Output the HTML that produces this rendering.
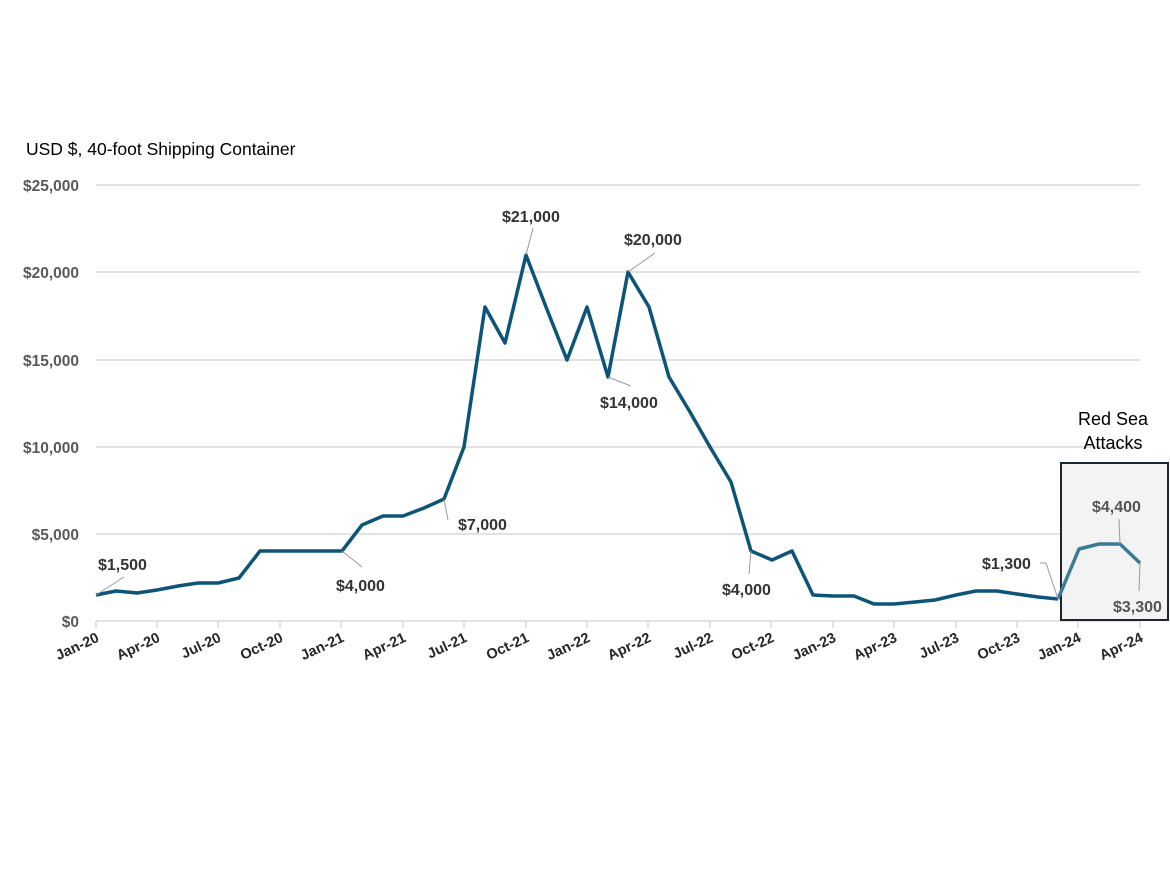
<!DOCTYPE html>
<html><head><meta charset="utf-8"><style>
html,body{margin:0;padding:0;background:#fff;}
svg{display:block;font-family:"Liberation Sans",Arial,sans-serif;}
.yl{font-size:15.5px;font-weight:bold;fill:#595959;text-anchor:end;}
.xl{font-size:14.5px;font-weight:bold;fill:#262626;text-anchor:end;}
.dl{font-size:16px;font-weight:bold;fill:#333;}
.ld{stroke:#999;stroke-width:1;fill:none;}
</style></head><body>
<svg width="1170" height="878" viewBox="0 0 1170 878">
<text x="26" y="155" font-size="17.5" fill="#000">USD $, 40-foot Shipping Container</text>
<g stroke="#d9d9d9" stroke-width="1.5">
<line x1="96" y1="185" x2="1140" y2="185"/>
<line x1="96" y1="272" x2="1140" y2="272"/>
<line x1="96" y1="360" x2="1140" y2="360"/>
<line x1="96" y1="447" x2="1140" y2="447"/>
<line x1="96" y1="534" x2="1140" y2="534"/>
<line x1="96" y1="621" x2="1140" y2="621"/>
</g>
<text class="yl" x="79" y="191">$25,000</text>
<text class="yl" x="79" y="278">$20,000</text>
<text class="yl" x="79" y="366">$15,000</text>
<text class="yl" x="79" y="453">$10,000</text>
<text class="yl" x="79" y="540">$5,000</text>
<text class="yl" x="79" y="627">$0</text>
<g stroke="#d9d9d9" stroke-width="1.5">
<line x1="96" y1="621" x2="96" y2="628"/><line x1="157" y1="621" x2="157" y2="628"/><line x1="218" y1="621" x2="218" y2="628"/><line x1="280" y1="621" x2="280" y2="628"/><line x1="341" y1="621" x2="341" y2="628"/><line x1="403" y1="621" x2="403" y2="628"/><line x1="464" y1="621" x2="464" y2="628"/><line x1="526" y1="621" x2="526" y2="628"/><line x1="587" y1="621" x2="587" y2="628"/><line x1="648" y1="621" x2="648" y2="628"/><line x1="710" y1="621" x2="710" y2="628"/><line x1="771" y1="621" x2="771" y2="628"/><line x1="833" y1="621" x2="833" y2="628"/><line x1="894" y1="621" x2="894" y2="628"/><line x1="956" y1="621" x2="956" y2="628"/><line x1="1017" y1="621" x2="1017" y2="628"/><line x1="1078" y1="621" x2="1078" y2="628"/><line x1="1140" y1="621" x2="1140" y2="628"/>
</g>
<g class="xl">
<text transform="translate(100,641) rotate(-25)">Jan-20</text>
<text transform="translate(161,641) rotate(-25)">Apr-20</text>
<text transform="translate(222,641) rotate(-25)">Jul-20</text>
<text transform="translate(284,641) rotate(-25)">Oct-20</text>
<text transform="translate(345,641) rotate(-25)">Jan-21</text>
<text transform="translate(407,641) rotate(-25)">Apr-21</text>
<text transform="translate(468,641) rotate(-25)">Jul-21</text>
<text transform="translate(530,641) rotate(-25)">Oct-21</text>
<text transform="translate(591,641) rotate(-25)">Jan-22</text>
<text transform="translate(652,641) rotate(-25)">Apr-22</text>
<text transform="translate(714,641) rotate(-25)">Jul-22</text>
<text transform="translate(775,641) rotate(-25)">Oct-22</text>
<text transform="translate(837,641) rotate(-25)">Jan-23</text>
<text transform="translate(898,641) rotate(-25)">Apr-23</text>
<text transform="translate(960,641) rotate(-25)">Jul-23</text>
<text transform="translate(1021,641) rotate(-25)">Oct-23</text>
<text transform="translate(1082,641) rotate(-25)">Jan-24</text>
<text transform="translate(1144,641) rotate(-25)">Apr-24</text>
</g>
<rect x="1061" y="463" width="107" height="157" fill="#f3f3f3" stroke="#1a2630" stroke-width="2"/>
<text x="1113" y="425" font-size="18" text-anchor="middle" fill="#000">Red Sea</text>
<text x="1113" y="449" font-size="18" text-anchor="middle" fill="#000">Attacks</text>
<polyline fill="none" stroke="#0d5479" stroke-width="3.5" stroke-linejoin="round" points="96,595 116,591 137,593 157,590 178,586 198,583 218,583 239,578 260,551 280,551 301,551 321,551 342,551 362,525 383,516 403,516 424,508 444,499 464,447 485,307 505,343 526,255 546,307 567,360 587,307 608,377 628,272 649,307 669,377 690,412 710,447 731,482 751,551 772,560 792,551 813,595 833,596 854,596 874,604 894,604 915,602 935,600 956,595 976,591 997,591 1017,594 1038,597 1058,599"/>
<polyline fill="none" stroke="#3a7b97" stroke-width="3.5" stroke-linejoin="round" points="1058,599 1079,549 1099,544 1120,544 1140,563"/>
<line class="ld" x1="96" y1="595" x2="124" y2="577"/><text class="dl" x="98" y="570">$1,500</text>
<line class="ld" x1="342" y1="551" x2="362" y2="567"/><text class="dl" x="336" y="591">$4,000</text>
<line class="ld" x1="444" y1="499" x2="448" y2="520"/><text class="dl" x="458" y="530">$7,000</text>
<line class="ld" x1="526" y1="255" x2="533" y2="228"/><text class="dl" x="502" y="222">$21,000</text>
<line class="ld" x1="628" y1="272" x2="655" y2="253"/><text class="dl" x="624" y="245">$20,000</text>
<line class="ld" x1="608" y1="377" x2="631" y2="386"/><text class="dl" x="600" y="408">$14,000</text>
<line class="ld" x1="751" y1="551" x2="749" y2="574"/><text class="dl" x="722" y="595">$4,000</text>
<line class="ld" x1="1058" y1="599" x2="1046" y2="563"/><line class="ld" x1="1046" y1="563" x2="1040" y2="563"/><text class="dl" x="982" y="569">$1,300</text>
<line class="ld" x1="1120" y1="544" x2="1119" y2="519"/><text class="dl" x="1092" y="512" style="fill:#555">$4,400</text>
<line class="ld" x1="1140" y1="563" x2="1139" y2="591"/><text class="dl" x="1113" y="612" style="fill:#555">$3,300</text>
</svg>
</body></html>
